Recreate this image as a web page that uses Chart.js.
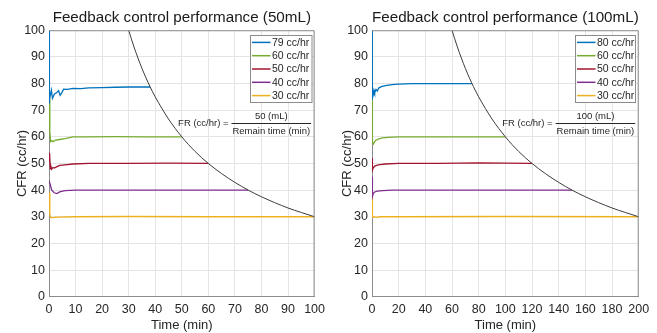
<!DOCTYPE html>
<html>
<head>
<meta charset="utf-8">
<title>Feedback control performance</title>
<script src="https://cdn.jsdelivr.net/npm/chart.js@4/dist/chart.umd.min.js"></script>
<style>
  body { margin: 0; background: #fff; overflow: hidden; }
  #wrap { position: relative; width: 657px; height: 333px; }
  .panel { position: absolute; top: 0; }
</style>
</head>
<body>
<div id="wrap">
  <canvas id="Chart50" class="panel" width="330" height="333" style="left:0px"></canvas>
  <canvas id="Chart100" class="panel" width="334" height="333" style="left:323px"></canvas>
</div>
<script>

// ---- 50 mL run (time in min, flow in cc/hr) ----
var t79_50 = [0, 0.01, 0.3, 0.9, 1.3, 2.0, 2.8, 3.6, 4.2, 4.8, 5.5, 7, 9, 12, 15, 20, 25, 30, 35, 38.1];
var v79_50 = [100, 72.5, 74, 77.5, 74.4, 76, 76.5, 77.3, 75.6, 76.5, 77.9, 77.8, 78.2, 78.1, 78.4, 78.5, 78.6, 78.7, 78.7, 78.7];
var t60_50 = [0, 0.3, 0.6, 1, 1.5, 2.5, 4, 6, 9, 15, 25, 35, 45, 50];
var v60_50 = [74.5, 62, 58.2, 58.5, 58.2, 58.8, 59.0, 59.3, 60.0, 60.0, 60.1, 60.0, 60.0, 60.0];
var t50_50 = [0, 0.2, 0.5, 0.7, 1, 1.5, 2, 3, 4, 6, 9, 15, 30, 45, 60];
var v50_50 = [51, 54, 48, 49, 47.8, 48.5, 48.3, 48.8, 49.3, 49.5, 49.8, 50, 50, 50.1, 50];
var t40_50 = [0, 0.5, 1, 2, 3, 4, 6, 10, 20, 40, 60, 75];
var v40_50 = [43.5, 42, 40, 39, 38.7, 39.3, 39.8, 40, 40, 40, 40, 40];
var t30_50 = [0, 0.3, 0.6, 1, 2, 4, 10, 30, 60, 100];
var v30_50 = [39, 31, 29.8, 29.6, 29.8, 29.9, 30, 30.1, 30, 30];
var tLimit_50 = [30, 32, 35, 38, 40, 45, 50, 55, 60, 65, 70, 75, 80, 85, 90, 95, 100];
var vLimit_50 = [100, 93.75, 85.7, 78.9, 75, 66.7, 60, 54.5, 50, 46.2, 42.9, 40, 37.5, 35.3, 33.3, 31.6, 30];

// ---- 100 mL run ----
var t80_100 = [0, 0.02, 0.5, 1, 1.5, 2, 3, 4, 5, 7, 10, 15, 20, 30, 50, 75];
var v80_100 = [100, 74, 78, 76, 77.5, 76.5, 77.8, 77.2, 78.3, 78.8, 79.2, 79.6, 79.8, 80, 80, 80];
var t60_100 = [0, 0.3, 1, 2, 3, 5, 8, 12, 20, 40, 70, 100];
var v60_100 = [74, 58, 57.3, 58.2, 58.7, 59.2, 59.6, 59.8, 60, 60, 60, 60];
var t50_100 = [0, 0.3, 1, 2, 4, 6, 10, 20, 50, 80, 120];
var v50_100 = [52, 47.5, 48.4, 49, 49.4, 49.6, 49.8, 50, 50, 50.2, 50];
var t40_100 = [0, 0.3, 1, 2, 4, 8, 15, 40, 100, 150];
var v40_100 = [45, 37.5, 38.8, 39.3, 39.6, 39.8, 40, 40, 40, 40];
var t30_100 = [0, 0.3, 1, 3, 6, 20, 100, 200];
var v30_100 = [37.5, 29.8, 30, 29.8, 30, 30, 30.1, 30];
var tLimit_100 = [60, 64, 70, 76, 80, 90, 100, 110, 120, 130, 140, 150, 160, 170, 180, 190, 200];
var vLimit_100 = [100, 93.75, 85.7, 78.9, 75, 66.7, 60, 54.5, 50, 46.2, 42.9, 40, 37.5, 35.3, 33.3, 31.6, 30];

var labels_50 = ['79 cc/hr', '60 cc/hr', '50 cc/hr', '40 cc/hr', '30 cc/hr'];
var labels_100 = ['80 cc/hr', '60 cc/hr', '50 cc/hr', '40 cc/hr', '30 cc/hr'];
var seriesColors = ['#0072BD', '#77AC30', '#A2142F', '#7E2F8E', '#EDB120'];

var FONT = "'Liberation Sans', Arial, sans-serif";


function toPoints(ts, vs) {
    return ts.map(function (t, i) { return {x: t, y: vs[i]}; });
}


// legend box, formula text and the matlab style axes box
var FeedbackDecorations = {
    id: 'feedbackDecorations',
    afterDraw: function (chart, args, opts) {
        var ctx = chart.ctx;
        var area = chart.chartArea;
        ctx.save();

        // top and right border
        ctx.strokeStyle = '#8c8c8c';
        ctx.lineWidth = 1;
        ctx.beginPath();
        ctx.moveTo(area.left, area.top + 0.5);
        ctx.lineTo(area.right - 0.5, area.top + 0.5);
        ctx.lineTo(area.right - 0.5, area.bottom);
        ctx.stroke();

        // legend
        var items = chart.data.datasets.filter(function (d) { return d.label; });
        var rowH = 13.3;
        var boxW = opts.legendWidth;
        var boxH = items.length * rowH + 0.5;
        var bx = Math.round(area.right - 3.5 - boxW) + 0.5;
        var by = Math.round(area.top + 5) + 0.5;
        ctx.fillStyle = '#ffffff';
        ctx.fillRect(bx, by, boxW, boxH);
        ctx.strokeStyle = '#8c8c8c';
        ctx.strokeRect(bx, by, boxW, boxH);
        ctx.font = '10.5px ' + FONT;
        ctx.textBaseline = 'middle';
        ctx.textAlign = 'left';
        items.forEach(function (d, i) {
            var y = by + 6.9 + i * rowH;
            ctx.strokeStyle = d.borderColor;
            ctx.lineWidth = 1.5;
            ctx.beginPath();
            ctx.moveTo(bx + 1.5, y);
            ctx.lineTo(bx + 20, y);
            ctx.stroke();
            ctx.fillStyle = '#262626';
            ctx.fillText(d.label, bx + 21.5, y + 0.5);
        });

        // formula FR = volume / remain time
        ctx.font = '9.5px ' + FONT;
        ctx.fillStyle = '#262626';
        var den = 'Remain time (min)';
        var w = ctx.measureText(den).width;
        var right = area.right - 3.5;
        var left = right - w - 2;
        var ly = Math.round(area.top + 92.7) + 0.5;
        ctx.strokeStyle = '#262626';
        ctx.lineWidth = 1;
        ctx.beginPath();
        ctx.moveTo(left, ly);
        ctx.lineTo(right, ly);
        ctx.stroke();
        ctx.textAlign = 'center';
        ctx.fillText(opts.numerator, (left + right) / 2, ly - 7.5);
        ctx.fillText(den, (left + right) / 2, ly + 7.5);
        ctx.textAlign = 'right';
        ctx.fillText('FR (cc/hr) =', left - 3, ly);

        ctx.restore();
    }
};


function buildChart(canvasId, title, series, labels, limitT, limitV, xMax, xStep, extra) {
    var datasets = [];
    for (var i = 0; i < series.length; ++i) {
        datasets.push({
            label: labels[i],
            data: toPoints(series[i][0], series[i][1]),
            borderColor: seriesColors[i],
            borderWidth: 1.3,
            pointRadius: 0,
            tension: 0,
            order: i + 1
        });
    }
    // hyperbolic limit curve
    datasets.push({
        data: toPoints(limitT, limitV),
        borderColor: '#3c3c3c',
        borderWidth: 1,
        pointRadius: 0,
        cubicInterpolationMode: 'monotone',
        order: 0
    });

    return new Chart(document.getElementById(canvasId), {
        type: 'line',
        data: { datasets: datasets },
        plugins: [FeedbackDecorations],
        options: {
            responsive: false,
            animation: false,
            events: [],
            layout: { padding: { left: 0, right: extra.padRight, top: 0, bottom: 0 } },
            scales: {
                x: {
                    type: 'linear',
                    min: 0,
                    max: xMax,
                    afterFit: function (scale) { scale.height = 36.3; },
                    ticks: { stepSize: xStep, padding: 5, maxRotation: 0, minRotation: 0, autoSkip: false,
                             color: '#262626', font: { family: FONT, size: 12.5 } },
                    grid: { color: '#e4e4e4', drawTicks: false },
                    border: { color: '#8c8c8c' },
                    title: { display: true, text: 'Time (min)', color: '#262626',
                             font: { family: FONT, size: 13 }, padding: { top: 0, bottom: 0 } }
                },
                y: {
                    min: 0,
                    max: 100,
                    afterFit: function (scale) { scale.width = 49; },
                    ticks: { stepSize: 10, padding: 4, color: '#262626', font: { family: FONT, size: 12.5 } },
                    grid: { color: '#e4e4e4', drawTicks: false },
                    border: { color: '#8c8c8c' },
                    title: { display: true, text: 'CFR (cc/hr)', color: '#262626',
                             font: { family: FONT, size: 13 }, padding: { top: extra.yTitlePad, bottom: 0 } }
                }
            },
            plugins: {
                legend: { display: false },
                tooltip: { enabled: false },
                title: {
                    display: true,
                    text: title,
                    fullSize: false,
                    color: '#1a1a1a',
                    font: { family: FONT, size: 15.2, weight: 'normal' },
                    padding: { top: 9, bottom: 3 }
                },
                feedbackDecorations: { legendWidth: extra.legendWidth, numerator: extra.numerator }
            }
        }
    });
}


document.addEventListener('DOMContentLoaded', function () {
    buildChart('Chart50', 'Feedback control performance (50mL)',
        [[t79_50, v79_50], [t60_50, v60_50], [t50_50, v50_50], [t40_50, v40_50], [t30_50, v30_50]],
        labels_50, tLimit_50, vLimit_50, 100, 10,
        { padRight: 13.3, yTitlePad: 14.2, legendWidth: 61.5, numerator: '50 (mL)' });

    buildChart('Chart100', 'Feedback control performance (100mL)',
        [[t80_100, v80_100], [t60_100, v60_100], [t50_100, v50_100], [t40_100, v40_100], [t30_100, v30_100]],
        labels_100, tLimit_100, vLimit_100, 200, 20,
        { padRight: 18.3, yTitlePad: 16.7, legendWidth: 60, numerator: '100 (mL)' });
});
</script>
</body>
</html>
